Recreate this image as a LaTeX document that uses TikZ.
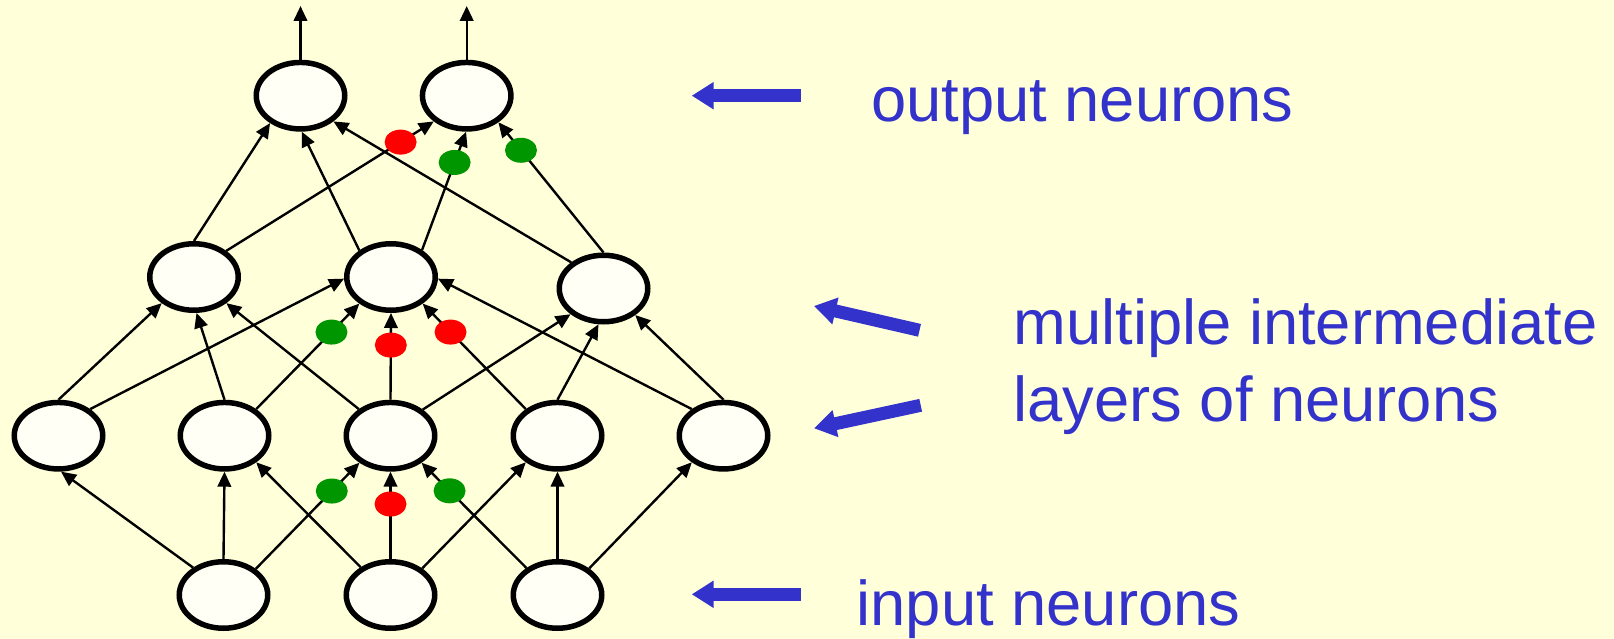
\documentclass[tikz,border=0pt]{standalone}
\usepackage{fontspec}
\setmainfont{Liberation Sans}
\usetikzlibrary{shapes.geometric,arrows.meta}
\definecolor{paperYellow}{RGB}{255,255,217}
\definecolor{neuronWhite}{RGB}{255,255,245}
\definecolor{labelBlue}{RGB}{51,51,204}
\definecolor{weightRed}{RGB}{255,0,0}
\definecolor{weightGreen}{RGB}{0,150,0}
\begin{document}
\begin{tikzpicture}
[x=1pt,y=-1pt,
  neuronDecorate/.style={shape=ellipse,draw,line width=5.5pt,fill=neuronWhite,
    minimum width=88.5pt,minimum height=66.5pt,inner sep=0pt},%
  lineDecorate/.style={line width=2.4pt,-{Triangle[length=15pt,width=13.5pt]}},%
  redDot/.style={shape=ellipse,fill=weightRed,minimum width=32pt,minimum height=25pt,inner sep=0pt},%
  greenDot/.style={redDot,fill=weightGreen},%
  pointerDecorate/.style={draw=labelBlue,line width=13pt,-{Triangle[length=22pt,width=26pt]}},%
  labelDecorate/.style={text=labelBlue,inner sep=0pt,font=\fontsize{63.3}{77}\selectfont}]
\useasboundingbox (0,0) rectangle (1614,639);
\fill[paperYellow] (0,0) rectangle (1614,639);
%% nodes or vertices
\foreach \nodename/\x/\y in {
  o1/300.5/95.7, o2/466.7/95.7,
  h1/194/277, h2/391/277, h3/603.5/288.5,
  b1/58.5/435.7, b2/224.5/435.7, b3/390.5/435.7, b4/557.5/435.7, b5/723.5/435.7,
  i1/223.5/595, i2/390.5/595, i3/557.5/595}
{
  \node (\nodename) at (\x,\y) [neuronDecorate] {};
}
\coordinate (o1top) at (300.5,6);
\coordinate (o2top) at (466.7,6);
%% edges or lines
\path
\foreach \startnode/\sa/\endnode/\ea in {
  o1/90/o1top/0, o2/90/o2top/0,
  h1/90/o1/222, h2/140/o1/272, h3/141/o1/322,
  b1/90/h1/219, b2/90/h1/274, b3/140/h1/321, b1/40/h2/182, b5/140/h2/358,
  b3/39/h3/218, b4/90/h3/262, b5/90/h3/320,
  i1/138/b1/274, i1/90/b2/270, i2/137/b2/320, i2/40/b4/220, i3/90/b4/270, i3/40/b5/220}
{
  (\startnode.\sa) edge[lineDecorate] (\endnode.\ea)
};
%% weighted edges
\path
\foreach \startnode/\sa/\endnode/\ea/\dotstyle/\p in {
  h1/39/o2/218/redDot/0.84, h2/41/o2/269/greenDot/0.74, h3/90/o2/320/greenDot/0.785,
  b2/40/h2/220/greenDot/0.73, b3/90/h2/270/redDot/0.63, b4/140/h2/320/redDot/0.73,
  i1/39/b3/221/greenDot/0.733, i2/90/b3/270/redDot/0.63, i3/139/b3/319/greenDot/0.733}
{
  (\startnode.\sa) edge[lineDecorate] node[\dotstyle,pos=\p] {} (\endnode.\ea)
};
%% labels
\node (outLabel) at (871,121.7) [labelDecorate,anchor=base west] {output neurons};
\node (midLabel) at (1013.3,421) [labelDecorate,anchor=base west,align=left]
  {multiple intermediate\\layers of neurons};
\node (inLabel) at (856.5,625) [labelDecorate,anchor=base west] {input neurons};
%% pointers
\coordinate (outTail) at (800.7,95.7);   \coordinate (outTip) at (691.7,95.7);
\coordinate (midTailA) at (919.5,330.3); \coordinate (midTipA) at (814,306);
\coordinate (midTailB) at (920.7,405.3); \coordinate (midTipB) at (814,428.3);
\coordinate (inTail) at (800.7,594.3);   \coordinate (inTip) at (691.7,594.3);
\foreach \a/\b in {outTail/outTip, midTailA/midTipA, midTailB/midTipB, inTail/inTip}
  \draw[pointerDecorate] (\a) -- (\b);
\end{tikzpicture}
\end{document}
